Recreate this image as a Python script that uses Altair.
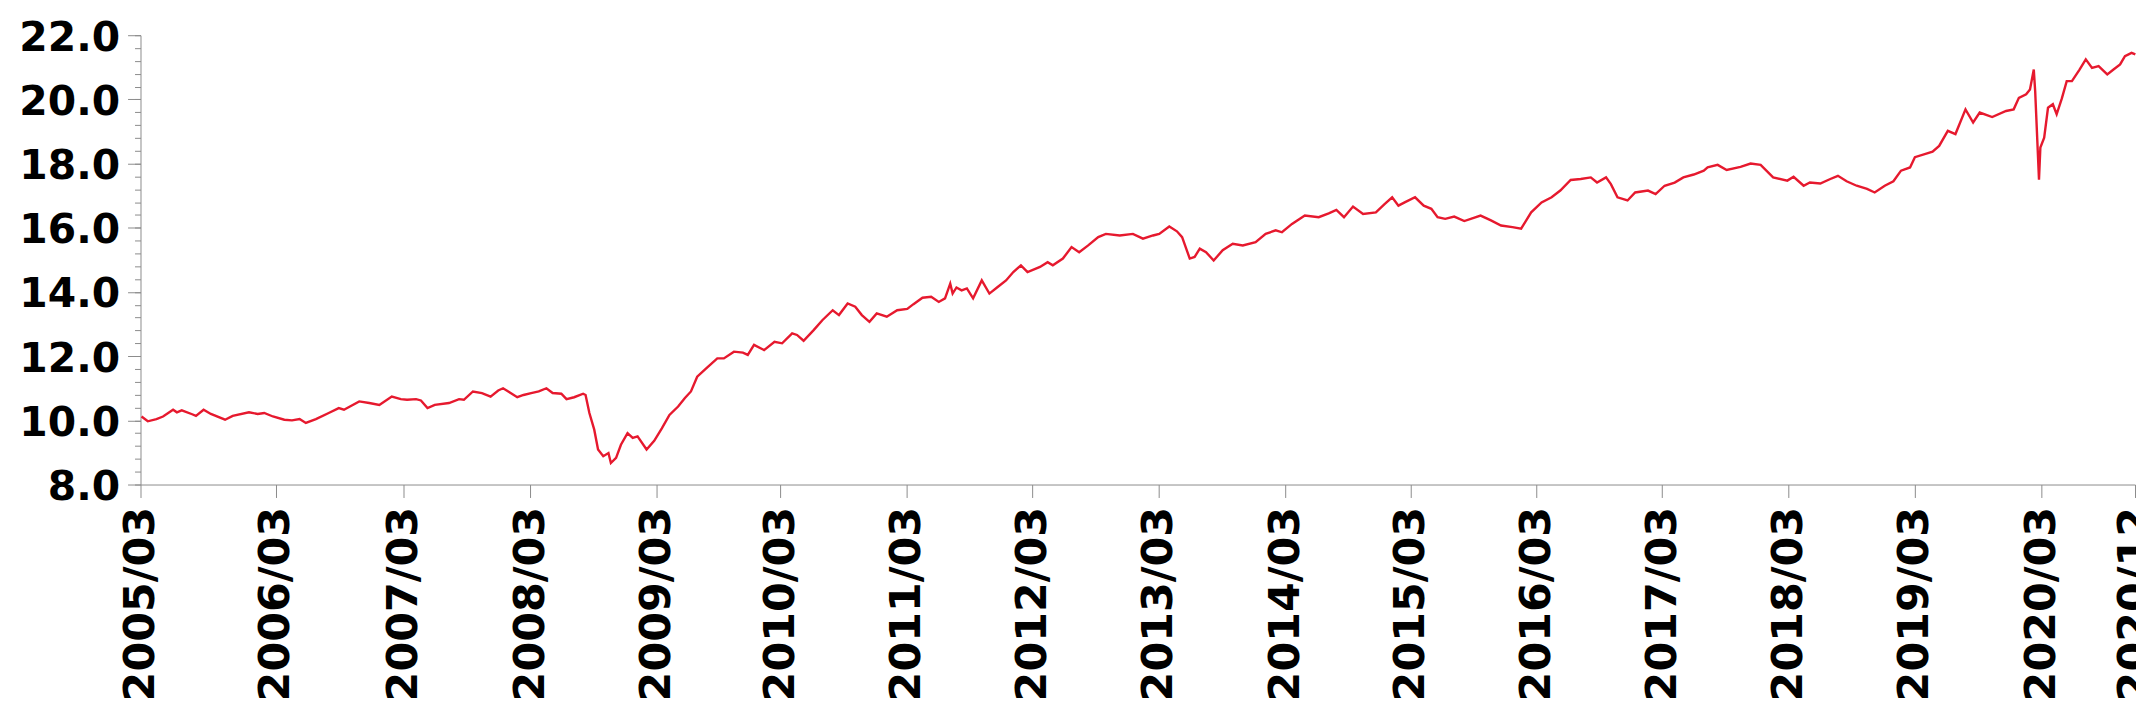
import altair as alt
import pandas as pd
from datetime import datetime, timedelta

# Decimal-year positions (2005/03 .. 2020/12)
years = [
    2005.17, 2005.22, 2005.29, 2005.34, 2005.42, 2005.45, 2005.49, 2005.57, 2005.60, 2005.66, 2005.72, 2005.83, 2005.89,
    2006.02, 2006.09, 2006.14, 2006.21, 2006.30, 2006.36, 2006.42, 2006.47, 2006.55, 2006.65, 2006.73, 2006.77, 2006.89, 2006.97,
    2007.05, 2007.15, 2007.22, 2007.27,
    2007.34, 2007.38, 2007.43, 2007.49, 2007.60, 2007.68, 2007.72, 2007.79, 2007.86, 2007.93, 2007.99,
    2008.03, 2008.07, 2008.14, 2008.19, 2008.25, 2008.31, 2008.37, 2008.42, 2008.49, 2008.53, 2008.59, 2008.66, 2008.68,
    2008.71, 2008.75, 2008.78, 2008.82, 2008.86, 2008.88, 2008.92, 2008.96,
    2009.01, 2009.05, 2009.09, 2009.16, 2009.22, 2009.28,
    2009.34, 2009.41, 2009.46, 2009.51, 2009.56, 2009.63, 2009.72, 2009.77, 2009.85, 2009.92, 2009.96,
    2010.01, 2010.09, 2010.17, 2010.23, 2010.31, 2010.35, 2010.40, 2010.48, 2010.55, 2010.63, 2010.68, 2010.75, 2010.81,
    2010.86, 2010.92, 2010.98,
    2011.06, 2011.14, 2011.22, 2011.27, 2011.34,
    2011.41, 2011.47, 2011.52, 2011.56, 2011.58, 2011.61, 2011.65, 2011.69, 2011.74, 2011.81, 2011.87, 2011.93,
    2012.00, 2012.06, 2012.12, 2012.17, 2012.27, 2012.33, 2012.37, 2012.45, 2012.52, 2012.58, 2012.65, 2012.73, 2012.79, 2012.90,
    2013.00, 2013.08, 2013.16, 2013.21, 2013.29, 2013.35,
    2013.39, 2013.45, 2013.49, 2013.53, 2013.58, 2013.64, 2013.71, 2013.79, 2013.87, 2013.97,
    2014.05, 2014.13, 2014.18, 2014.26, 2014.36, 2014.47, 2014.55, 2014.61, 2014.67, 2014.74, 2014.82, 2014.92, 2014.99,
    2015.05, 2015.10, 2015.15, 2015.23, 2015.30, 2015.36, 2015.41,
    2015.47, 2015.54, 2015.62, 2015.75, 2015.83, 2015.91,
    2016.00, 2016.07, 2016.15, 2016.23, 2016.31, 2016.38, 2016.46, 2016.54, 2016.62, 2016.67, 2016.74, 2016.78, 2016.83,
    2016.91, 2016.97,
    2017.07, 2017.13, 2017.20, 2017.28, 2017.35, 2017.43, 2017.51,
    2017.54, 2017.62, 2017.69, 2017.80, 2017.88, 2017.96,
    2018.06, 2018.17, 2018.22, 2018.30, 2018.35, 2018.43, 2018.51, 2018.57, 2018.64, 2018.72, 2018.80, 2018.86, 2018.94,
    2019.01, 2019.07, 2019.14, 2019.18, 2019.27, 2019.32,
    2019.37, 2019.44, 2019.50, 2019.58, 2019.64, 2019.69, 2019.79, 2019.90, 2019.96,
    2020.00, 2020.06, 2020.09, 2020.12, 2020.13, 2020.16, 2020.17, 2020.20, 2020.23, 2020.27, 2020.30, 2020.34, 2020.38,
    2020.42, 2020.48, 2020.53, 2020.58, 2020.63, 2020.70, 2020.75, 2020.80, 2020.84, 2020.89, 2020.92,
]

values = [
    10.12, 9.97, 10.04, 10.12, 10.33, 10.25, 10.31, 10.19, 10.14, 10.33, 10.20, 10.02, 10.14,
    10.25, 10.20, 10.23, 10.12, 10.02, 10.00, 10.04, 9.92, 10.04, 10.23, 10.38, 10.33, 10.59, 10.54,
    10.48, 10.74, 10.66, 10.64,
    10.66, 10.62, 10.38, 10.48, 10.54, 10.66, 10.64, 10.90, 10.85, 10.74, 10.93,
    11.00, 10.90, 10.72, 10.79, 10.85, 10.90, 11.00, 10.85, 10.83, 10.66, 10.72, 10.83, 10.79,
    10.23, 9.71, 9.09, 8.88, 8.98, 8.67, 8.83, 9.24,
    9.60, 9.45, 9.50, 9.09, 9.36, 9.75,
    10.17, 10.43, 10.69, 10.90, 11.36, 11.62, 11.93, 11.93, 12.14, 12.11, 12.04,
    12.35, 12.19, 12.45, 12.40, 12.71, 12.66, 12.48, 12.81, 13.12, 13.43, 13.28, 13.64, 13.54,
    13.28, 13.07, 13.33,
    13.23, 13.43, 13.47, 13.62, 13.82,
    13.85, 13.69, 13.80, 14.26, 13.95, 14.14, 14.05, 14.11, 13.80, 14.36, 13.95, 14.14,
    14.36, 14.62, 14.83, 14.62, 14.78, 14.93, 14.83, 15.04, 15.40, 15.24, 15.45, 15.71, 15.81, 15.76,
    15.81, 15.66, 15.76, 15.81, 16.04, 15.89,
    15.71, 15.04, 15.09, 15.35, 15.24, 14.98, 15.30, 15.50, 15.45, 15.55,
    15.81, 15.92, 15.86, 16.12, 16.38, 16.33, 16.45, 16.56, 16.33, 16.66, 16.43, 16.48, 16.74,
    16.95, 16.69, 16.79, 16.95, 16.69, 16.59, 16.33,
    16.28, 16.35, 16.21, 16.38, 16.23, 16.07,
    16.02, 15.97, 16.48, 16.79, 16.95, 17.16, 17.49, 17.52, 17.57, 17.41, 17.57, 17.36, 16.95,
    16.85, 17.10,
    17.16, 17.05, 17.31, 17.41, 17.57, 17.66, 17.78,
    17.88, 17.96, 17.80, 17.90, 18.00, 17.96,
    17.57, 17.47, 17.59, 17.31, 17.41, 17.38, 17.52, 17.62, 17.45, 17.31, 17.21, 17.10, 17.31,
    17.45, 17.78, 17.88, 18.20, 18.31, 18.37,
    18.55, 19.02, 18.92, 19.69, 19.28, 19.59, 19.45, 19.64, 19.69,
    20.05, 20.16, 20.31, 20.93, 20.26, 17.50, 18.50, 18.81, 19.74, 19.85, 19.54, 20.03, 20.57,
    20.57, 20.93, 21.25, 20.98, 21.04, 20.78, 20.93, 21.09, 21.35, 21.45, 21.40,
]

y_ticks = [8.0, 10.0, 12.0, 14.0, 16.0, 18.0, 20.0, 22.0]
y_minor_ticks = [8.0, 8.4, 8.8, 9.2, 9.6, 10.0, 10.4, 10.8, 11.2, 11.6, 12.0, 12.4, 12.8, 13.2, 13.6,
                 14.0, 14.4, 14.8, 15.2, 15.6, 16.0, 16.4, 16.8, 17.2, 17.6, 18.0, 18.4, 18.8, 19.2,
                 19.6, 20.0, 20.4, 20.8, 21.2, 21.6, 22.0]

# Tick positions on the time axis (labelled YYYY/MM)
x_tick_dates = [(2005, 3, 1), (2006, 3, 27), (2007, 3, 30), (2008, 3, 29), (2009, 3, 29), (2010, 3, 21),
                (2011, 3, 20), (2012, 3, 17), (2013, 3, 17), (2014, 3, 17), (2015, 3, 14), (2016, 3, 10),
                (2017, 3, 8), (2018, 3, 8), (2019, 3, 7), (2020, 3, 6), (2020, 12, 1)]


def to_date(y):
    yr = int(y)
    d = datetime(yr, 1, 1) + timedelta(days=(y - yr) * 365.25)
    return d.strftime("%Y-%m-%dT00:00:00")


df = pd.DataFrame({"date": [to_date(y) for y in years], "value": values})

x_vals = [alt.DateTime(year=y, month=m, date=d) for (y, m, d) in x_tick_dates]
x_domain = [alt.DateTime(year=2005, month=3, date=1), alt.DateTime(year=2020, month=12, date=1)]

FONT = "DejaVu Sans"
GREY = "#8c8c8c"

x_enc = alt.X(
    "date:T",
    scale=alt.Scale(domain=x_domain),
    axis=alt.Axis(
        values=x_vals,
        format="%Y/%m",
        labelAngle=-90,
        labelFont=FONT,
        labelFontSize=43,
        labelFontWeight="bold",
        labelColor="#000000",
        labelPadding=9,
        labelOverlap=False,
        labelLimit=0,
        labelFlush=False,
        tickSize=13,
        tickColor=GREY,
        domainColor=GREY,
        grid=False,
        title=None,
    ),
)

line = alt.Chart(df).mark_line(color="#e6192e", strokeWidth=2.4).encode(
    x=x_enc,
    y=alt.Y(
        "value:Q",
        scale=alt.Scale(domain=[8, 22], nice=False),
        axis=alt.Axis(
            values=y_ticks,
            format=".1f",
            labelFont=FONT,
            labelFontSize=41,
            labelFontWeight="bold",
            labelColor="#000000",
            labelPadding=8,
            labelOffset=3,
            labelLimit=0,
            tickSize=13,
            tickColor=GREY,
            domainColor=GREY,
            grid=False,
            title=None,
        ),
    ),
)

minor = alt.Chart(df).mark_line(strokeOpacity=0).encode(
    x=x_enc,
    y=alt.Y(
        "value:Q",
        scale=alt.Scale(domain=[8, 22], nice=False),
        axis=alt.Axis(
            orient="left",
            values=y_minor_ticks,
            labels=False,
            tickSize=6,
            tickColor=GREY,
            domain=False,
            grid=False,
            title=None,
        ),
    ),
)

chart = (
    alt.layer(line, minor)
    .resolve_scale(y="independent")
    .properties(
        width=2002,
        height=451,
        autosize=alt.AutoSizeParams(type="none"),
        padding={"left": 133, "top": 26, "right": 1, "bottom": 226},
        background="white",
    )
    .configure_view(stroke=None)
)

chart.save("out.html", embed_options={"renderer": "svg", "actions": False})
